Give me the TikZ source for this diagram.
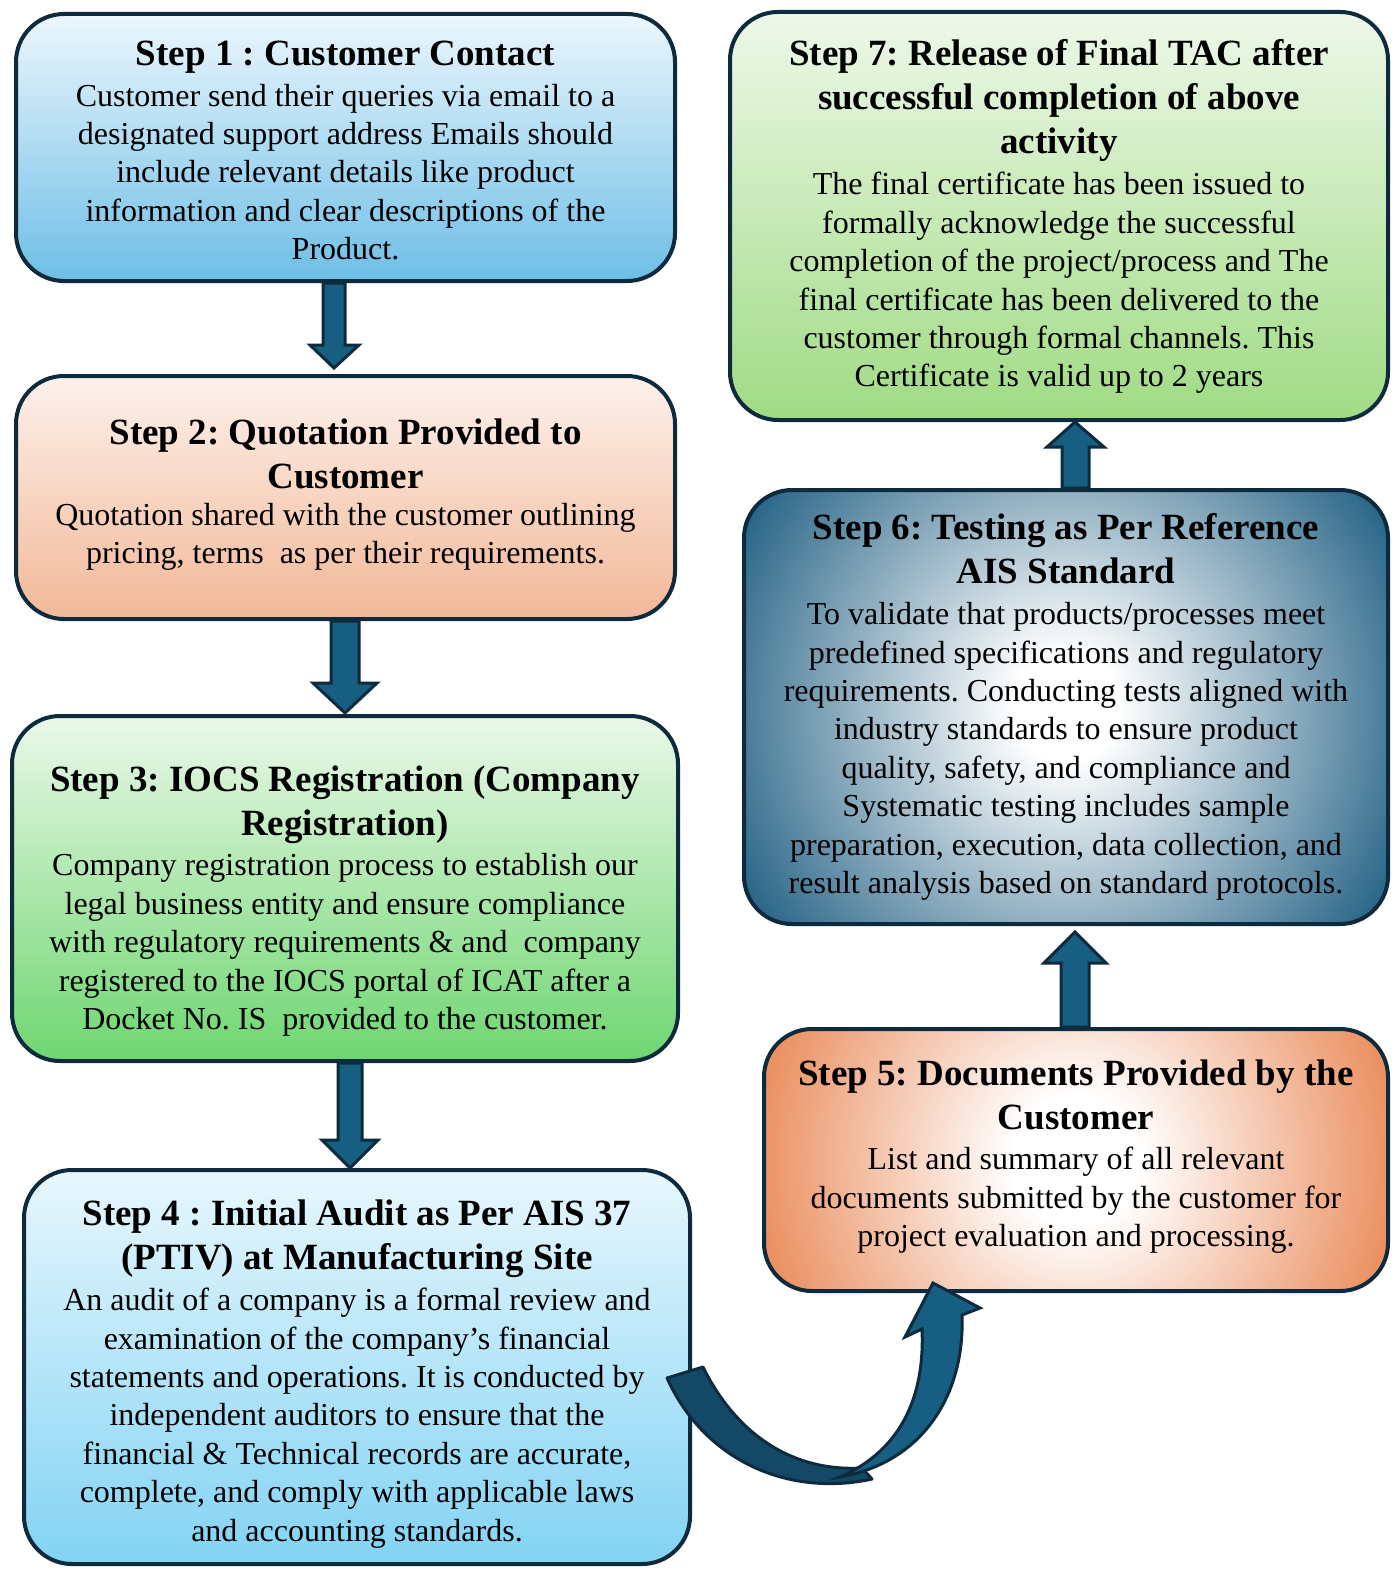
\documentclass[tikz,border=0pt]{standalone}
\usepackage{fontspec}
\setmainfont{Liberation Serif}
\definecolor{linec}{HTML}{0E2B3D}
\definecolor{arrf}{HTML}{165E82}
\definecolor{arrd}{HTML}{134966}
\definecolor{org5}{HTML}{E8804A}
\definecolor{blu6}{HTML}{2A6688}
\pgfdeclareradialshading{radfive}{\pgfpoint{0bp}{0bp}}{color(0bp)=(white); color(5bp)=(white); color(28bp)=(org5); color(50bp)=(org5)}
\pgfdeclareradialshading{radsix}{\pgfpoint{0bp}{0bp}}{color(0bp)=(white); color(4bp)=(white); color(28bp)=(blu6); color(50bp)=(blu6)}
\tikzset{
  stepbox/.style={draw=linec, line width=4pt, rounded corners=48pt, inner sep=0pt},
  ttl/.style={font=\fontsize{37}{44}\selectfont\bfseries\frenchspacing, align=center, inner sep=0pt},
  bdy/.style={font=\fontsize{32}{38.4}\selectfont\frenchspacing, align=center, inner sep=0pt},
  blockarr/.style={fill=arrf, draw=linec, line width=3pt, line join=miter},
}
\begin{document}
\begin{tikzpicture}[x=1pt,y=-1pt]
\useasboundingbox (0,0) rectangle (1399,1571);
\fill[white] (0,0) rectangle (1399,1571);

% boxes
\node[stepbox, minimum width=659pt, minimum height=267pt, top color={rgb,255:red,236;green,247;blue,253}, bottom color={rgb,255:red,110;green,190;blue,230}] (b1) at (345.5,147.5) {};
\node[stepbox, minimum width=659pt, minimum height=243pt, top color={rgb,255:red,253;green,241;blue,235}, bottom color={rgb,255:red,242;green,184;blue,152}] (b2) at (345.5,497.5) {};
\node[stepbox, minimum width=666pt, minimum height=345pt, top color={rgb,255:red,235;green,248;blue,233}, bottom color={rgb,255:red,110;green,214;blue,112}] (b3) at (345,888.5) {};
\node[stepbox, minimum width=666pt, minimum height=394pt, top color={rgb,255:red,232;green,247;blue,253}, bottom color={rgb,255:red,130;green,211;blue,243}] (b4) at (357,1367) {};
\node[stepbox, minimum width=624pt, minimum height=262pt, path picture={\shade[shading=radfive] (path picture bounding box.center) ++(-320,-320) rectangle ++(640,640);}] (b5) at (1076,1160) {};
\node[stepbox, minimum width=644pt, minimum height=434pt, path picture={\shade[shading=radsix] (path picture bounding box.center) ++(-330,-330) rectangle ++(660,660);}] (b6) at (1066,707) {};
\node[stepbox, minimum width=658pt, minimum height=408pt, top color={rgb,255:red,238;green,248;blue,233}, bottom color={rgb,255:red,160;green,219;blue,132}] (b7) at (1059,216) {};

% texts
\node[ttl] (t1) at (345.5,57) {Step 1 : Customer Contact};
\node[bdy] (d1) at (345.5,172) {Customer send their queries via email to a\\designated support address Emails should\\include relevant details like product\\information and clear descriptions of the\\Product.};

\node[ttl] (t2) at (345.5,454) {Step 2: Quotation Provided to\\Customer};
\node[bdy] (d2) at (345.5,537) {Quotation shared with the customer outlining\\pricing, terms\ \ as per their requirements.};

\node[ttl] (t3) at (345,805) {Step 3: IOCS Registration (Company\\Registration)};
\node[bdy] (d3) at (345,945) {Company registration process to establish our\\legal business entity and ensure compliance\\with regulatory requirements \& and\ \ company\\registered to the IOCS portal of ICAT after a\\Docket No. IS\ \ provided to the customer.};

\node[ttl] (t4) at (357,1239) {Step 4 : Initial Audit as Per AIS 37\\(PTIV) at Manufacturing Site};
\node[bdy] (d4) at (357,1418) {An audit of a company is a formal review and\\examination of the company’s financial\\statements and operations. It is conducted by\\independent auditors to ensure that the\\financial \& Technical records are accurate,\\complete, and comply with applicable laws\\and accounting standards.};

\node[ttl] (t5) at (1076,1095) {Step 5: Documents Provided by the\\Customer};
\node[bdy] (d5) at (1076,1200.5) {List and summary of all relevant\\documents submitted by the customer for\\project evaluation and processing.};

\node[ttl] (t6) at (1066,549) {Step 6: Testing as Per Reference\\AIS Standard};
\node[bdy] (d6) at (1066,751.5) {To validate that products/processes meet\\predefined specifications and regulatory\\requirements. Conducting tests aligned with\\industry standards to ensure product\\quality, safety, and compliance and\\Systematic testing includes sample\\preparation, execution, data collection, and\\result analysis based on standard protocols.};

\node[ttl] (t7) at (1059,100.5) {Step 7: Release of Final TAC after\\successful completion of above\\activity};
\node[bdy] (d7) at (1059,283) {The final certificate has been issued to\\formally acknowledge the successful\\completion of the project/process and The\\final certificate has been delivered to the\\customer through formal channels. This\\Certificate is valid up to 2 years};

% straight block arrows
\draw[blockarr] (323,283) -- (323,345) -- (310,345) -- (334,368) -- (359,345) -- (345,345) -- (345,283) -- cycle;
\draw[blockarr] (331,621) -- (331,683) -- (313,683) -- (345,713) -- (377,683) -- (359,683) -- (359,621) -- cycle;
\draw[blockarr] (338,1063) -- (338,1140) -- (322,1140) -- (350,1168) -- (378,1140) -- (362,1140) -- (362,1063) -- cycle;
\draw[blockarr] (1061,1027) -- (1061,963) -- (1044,963) -- (1075,932) -- (1106,963) -- (1089,963) -- (1089,1027) -- cycle;
\draw[blockarr] (1062,488) -- (1062,447) -- (1047,447) -- (1075,422) -- (1104,447) -- (1089,447) -- (1089,488) -- cycle;

% curved arrow from step 4 to step 5
\draw[fill=arrd, draw=linec, line width=3pt, line join=round] (667,1378) .. controls (705,1462) and (790,1497) .. (872,1479) -- (862,1468) .. controls (790,1472) and (735,1432) .. (703,1367) -- cycle;
\draw[fill=arrf, draw=linec, line width=3pt, line join=miter] (840,1477) .. controls (925,1462) and (965,1392) .. (962,1315) -- (980,1308) -- (933,1283) -- (905,1337) -- (922,1329) .. controls (925,1395) and (902,1450) .. (840,1477) -- cycle;
\end{tikzpicture}
\end{document}
